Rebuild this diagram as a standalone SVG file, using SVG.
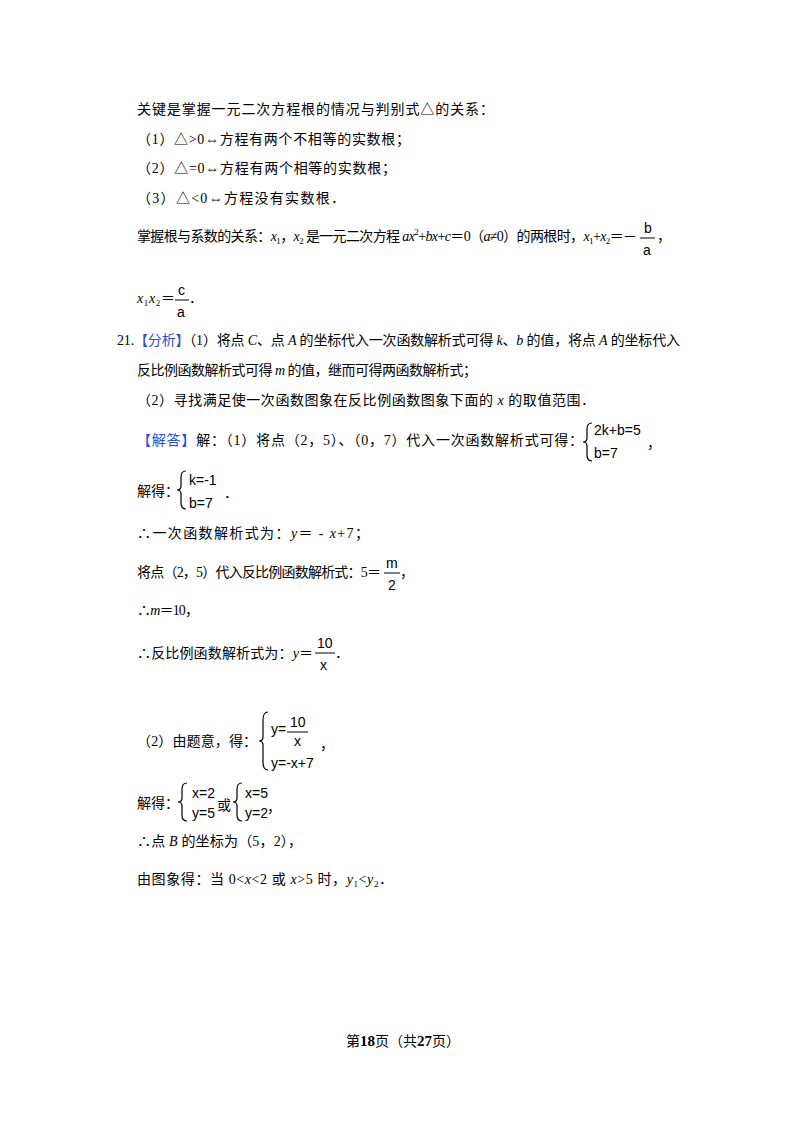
<svg xmlns="http://www.w3.org/2000/svg" width="800" height="1132" viewBox="0 0 800 1132">
<style>
text{font-family:"Liberation Serif","Noto Sans CJK SC",serif;font-size:14px;fill:#000}
.m{font-family:"Liberation Sans","Noto Sans CJK SC",sans-serif;font-size:14px}
.b{fill:#2a4fd6}
.i{font-style:italic}
.br{fill:none;stroke:#000;stroke-width:1.2}
.fl{stroke:#000;stroke-width:1}
</style>
<rect width="800" height="1132" fill="#fff"/>
<g id="body">
<text x="137" y="114" textLength="357" lengthAdjust="spacing">关键是掌握一元二次方程根的情况与判别式△的关系：</text>
<text x="137" y="144" textLength="273" lengthAdjust="spacing">（1）△&gt;0⇔方程有两个不相等的实数根；</text>
<text x="137" y="173" textLength="259" lengthAdjust="spacing">（2）△=0⇔方程有两个相等的实数根；</text>
<text x="137" y="203" textLength="208" lengthAdjust="spacing">（3）△&lt;0⇔方程没有实数根．</text>
<text x="137" y="241" textLength="500" lengthAdjust="spacing">掌握根与系数的关系：<tspan class="i">x</tspan><tspan font-size="9" dy="3">1</tspan><tspan dy="-3">，</tspan><tspan class="i">x</tspan><tspan font-size="9" dy="3">2</tspan><tspan dy="-3"> 是一元二次方程 </tspan><tspan class="i">ax</tspan><tspan font-size="9" dy="-6">2</tspan><tspan dy="6">+</tspan><tspan class="i">bx</tspan><tspan>+</tspan><tspan class="i">c</tspan><tspan>＝0（</tspan><tspan class="i">a</tspan><tspan>≠0）的两根时，</tspan><tspan class="i">x</tspan><tspan font-size="9" dy="3">1</tspan><tspan dy="-3">+</tspan><tspan class="i">x</tspan><tspan font-size="9" dy="3">2</tspan><tspan dy="-3">＝－</tspan></text>
<text class="m" x="644" y="233">b</text><line class="fl" x1="640" y1="238" x2="655" y2="238"/><text class="m" x="643" y="255">a</text><text x="657" y="241">，</text>
<text x="137" y="303" textLength="38" lengthAdjust="spacing"><tspan class="i">x</tspan><tspan font-size="9" dy="3">1</tspan><tspan class="i" dy="-3">x</tspan><tspan font-size="9" dy="3">2</tspan><tspan dy="-3">＝</tspan></text>
<text class="m" x="178" y="295">c</text><line class="fl" x1="175" y1="300" x2="189" y2="300"/><text class="m" x="177" y="317">a</text><text x="189" y="303">．</text>

<text x="117" y="345" textLength="563" lengthAdjust="spacing">21.<tspan class="b">【分析】</tspan>（1）将点 <tspan class="i">C</tspan>、点 <tspan class="i">A</tspan> 的坐标代入一次函数解析式可得 <tspan class="i">k</tspan>、<tspan class="i">b</tspan> 的值，将点 <tspan class="i">A</tspan> 的坐标代入</text>
<text x="137" y="375" textLength="340" lengthAdjust="spacing">反比例函数解析式可得 <tspan class="i">m</tspan> 的值，继而可得两函数解析式；</text>
<text x="137" y="405" textLength="458" lengthAdjust="spacing">（2）寻找满足使一次函数图象在反比例函数图象下面的 <tspan class="i">x</tspan> 的取值范围．</text>
<text x="137" y="445" textLength="446" lengthAdjust="spacing"><tspan class="b">【解答】</tspan>解：（1）将点（2，5）、（0，7）代入一次函数解析式可得：</text>
<path class="br" d="M592 423 q-5 0 -5 6 v9 q0 4 -4 4 q4 0 4 4 v9 q0 6 5 6"/>
<text class="m" x="594" y="435">2k+b=5</text><text class="m" x="594" y="458">b=7</text><text x="647" y="448">，</text>
<text x="137" y="496">解得：</text>
<path class="br" d="M186 471 q-5 0 -5 6 v9 q0 4 -4 4 q4 0 4 4 v9 q0 6 5 6"/>
<text class="m" x="189" y="485">k=-1</text><text class="m" x="189" y="508">b=7</text><text x="224" y="498">．</text>
<text x="137" y="538" textLength="232" lengthAdjust="spacing">∴一次函数解析式为：<tspan class="i">y</tspan>＝ - <tspan class="i">x</tspan>+7；</text>
<text x="137" y="577" textLength="244" lengthAdjust="spacing">将点（2，5）代入反比例函数解析式：5＝</text>
<text class="m" x="386" y="568">m</text><line class="fl" x1="384" y1="573" x2="400" y2="573"/><text class="m" x="388" y="590">2</text><text x="400" y="577">，</text>
<text x="137" y="615" textLength="62" lengthAdjust="spacing">∴<tspan class="i">m</tspan>＝10，</text>
<text x="137" y="658" textLength="176" lengthAdjust="spacing">∴反比例函数解析式为：<tspan class="i">y</tspan>＝</text>
<text class="m" x="317" y="648">10</text><line class="fl" x1="315" y1="653" x2="335" y2="653"/><text class="m" x="320" y="670">x</text><text x="335" y="658">．</text>

<text x="137" y="746" textLength="120" lengthAdjust="spacing">（2）由题意，得：</text>
<path class="br" d="M268 712 q-5 0 -5 8 v17 q0 4 -4 4 q4 0 4 4 v17 q0 8 5 8"/>
<text class="m" x="271" y="734">y=</text><text class="m" x="290" y="727">10</text><line class="fl" x1="287" y1="732" x2="308" y2="732"/><text class="m" x="294" y="746">x</text>
<text x="320" y="749">，</text>
<text class="m" x="271" y="768">y=-x+7</text>
<text x="137" y="808">解得：</text>
<path class="br" d="M187 783 q-5 0 -5 6 v9 q0 4 -4 4 q4 0 4 4 v9 q0 6 5 6"/>
<text class="m" x="192" y="798">x=2</text><text class="m" x="192" y="818">y=5</text>
<text x="217" y="810">或</text>
<path class="br" d="M242 783 q-5 0 -5 6 v9 q0 4 -4 4 q4 0 4 4 v9 q0 6 5 6"/>
<text class="m" x="245" y="798">x=5</text><text class="m" x="245" y="818">y=2</text><text x="267" y="812">，</text>
<text x="137" y="846" textLength="165" lengthAdjust="spacing">∴点 <tspan class="i">B</tspan> 的坐标为（5，2），</text>
<text x="137" y="884" textLength="256" lengthAdjust="spacing">由图象得：当 0&lt;<tspan class="i">x</tspan>&lt;2 或 <tspan class="i">x</tspan>&gt;5 时，<tspan class="i">y</tspan><tspan font-size="9" dy="3">1</tspan><tspan dy="-3">&lt;</tspan><tspan class="i">y</tspan><tspan font-size="9" dy="3">2</tspan><tspan dy="-3">．</tspan></text>
<text x="346" y="1046" font-size="13">第<tspan font-weight="bold" font-size="15">18</tspan>页（共<tspan font-weight="bold" font-size="15">27</tspan>页）</text>
</g>
</svg>
